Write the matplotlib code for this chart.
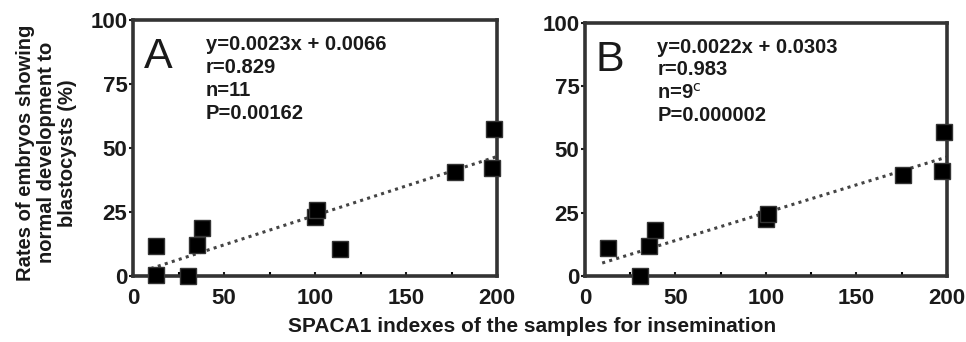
import numpy as np
import matplotlib
matplotlib.use("Agg")
import matplotlib.pyplot as plt

plt.rcParams['font.family'] = ['Liberation Sans', 'DejaVu Sans']

# Panel A data (SPACA1 index vs. blastocyst rate %)
a_x = [12.8, 12.8, 30.3, 35.2, 38.0, 100.0, 101.0, 113.8, 176.7, 197.5, 198.5]
a_y = [11.7, 0.3, 0.0, 12.0, 18.8, 23.0, 25.8, 10.6, 40.5, 42.2, 57.4]
a_fit = (0.0023, 0.0066)
a_text = ["y=0.0023x + 0.0066", "r=0.829", "n=11", "P=0.00162"]

# Panel B data
b_x = [12.5, 30.3, 35.2, 38.5, 100.0, 101.0, 175.8, 197.5, 198.5]
b_y = [11.2, 0.0, 11.8, 18.3, 22.5, 24.5, 39.9, 41.5, 56.8]
b_fit = (0.0022, 0.0303)
b_text = ["y=0.0022x + 0.0303", "r=0.983", "n=9$^{\\rm c}$", "P=0.000002"]

xticks = [0, 50, 100, 150, 200]
yticks = [0, 25, 50, 75, 100]

ink = '#1a1a1a'
fig = plt.figure(figsize=(9.66, 3.42), dpi=100)
ax_a = fig.add_axes([0.1377, 0.1930, 0.3768, 0.7485])
ax_b = fig.add_axes([0.6056, 0.1930, 0.3747, 0.7398])


def draw_panel(ax, xs, ys, fit, lines, letter):
    slope, icpt = fit
    fx = np.array([min(xs) - 3, 200])
    ax.plot(fx, (slope * fx + icpt) * 100, ls=(0, (1, 1.4)), color='#444444',
            lw=2.2, zorder=2)
    ax.plot(xs, ys, 's', color='black', ms=11.5, mec='#333333', mew=1,
            clip_on=False, zorder=3)
    ax.set_xlim(0, 200)
    ax.set_ylim(0, 100)
    ax.set_xticks(xticks)
    ax.set_xticks(np.arange(0, 201, 25), minor=True)
    ax.set_yticks(yticks)
    ax.tick_params(axis='both', labelsize=16, width=1.5, color=ink,
                   labelcolor=ink)
    ax.tick_params(axis='x', direction='in', length=3, pad=9)
    ax.tick_params(axis='x', which='minor', direction='in', length=3, width=1.5)
    ax.tick_params(axis='y', direction='out', length=3, pad=1)
    for lab in ax.get_xticklabels() + ax.get_yticklabels():
        lab.set_fontweight('bold')
    for sp in ax.spines.values():
        sp.set_linewidth(2.6)
        sp.set_color('#333333')
    ax.text(0.03, 0.855, letter, transform=ax.transAxes, fontsize=31,
            ha='left', va='center', color=ink)
    for i, s in enumerate(lines):
        ax.text(0.20, 0.905 - i * 0.09, s, transform=ax.transAxes,
                fontsize=14.5, fontweight='bold', ha='left', va='center',
                color=ink)


draw_panel(ax_a, a_x, a_y, a_fit, a_text, 'A')
draw_panel(ax_b, b_x, b_y, b_fit, b_text, 'B')

fig.text(0.048, 0.553, 'Rates of embryos showing\nnormal development to\nblastocysts (%)',
         rotation=90, ha='center', va='center', fontsize=14.5,
         fontweight='bold', color=ink, linespacing=1.15)
fig.text(0.551, 0.044, 'SPACA1 indexes of the samples for insemination',
         ha='center', va='center', fontsize=15, fontweight='bold', color=ink)

fig.savefig('out.png', dpi=100)
